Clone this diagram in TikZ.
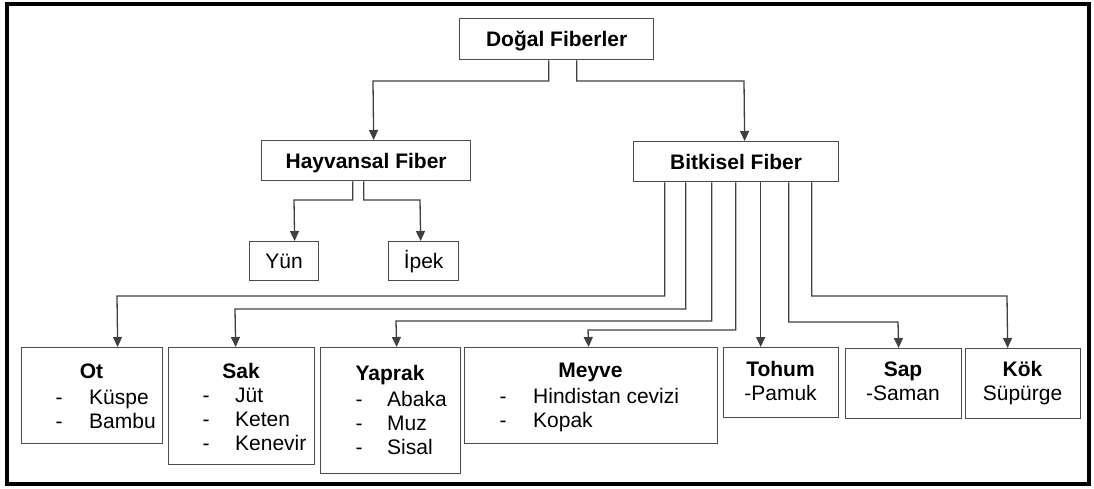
\documentclass[tikz,border=0pt]{standalone}
\usepackage{fontspec}
\setmainfont{Liberation Sans}
\usetikzlibrary{arrows.meta}
\begin{document}
\begin{tikzpicture}[x=1pt,y=-1pt,
  line join=miter,
  frame/.style={draw=black, line width=3.5pt},
  box/.style={draw=black!70, line width=1.3pt, inner sep=0pt, anchor=north west,
    text height=15pt, text depth=0pt, font=\fontsize{21}{24}\selectfont\bfseries},
  leaf/.style={box, font=\fontsize{21}{24}\selectfont},
  conn/.style={draw=black!75, line width=1.3pt, -{Triangle[length=10pt,width=9pt]}},
  ttl/.style={inner sep=0pt, anchor=base, font=\fontsize{21}{24}\selectfont\bfseries},
  txt/.style={inner sep=0pt, anchor=base, font=\fontsize{21}{24}\selectfont},
  itm/.style={inner sep=0pt, anchor=base west, font=\fontsize{21}{24}\selectfont}]
\useasboundingbox (0,0) rectangle (1094,488);
\draw[frame] (7,4) rectangle (1089,484);

% upper levels
\node[box, minimum width=194pt, minimum height=41pt] (dogal) at (459,18) {Doğal Fiberler};
\node[box, minimum width=209pt, minimum height=40pt] (hay) at (261,140) {Hayvansal Fiber};
\node[box, minimum width=205pt, minimum height=40pt] (bit) at (633,141) {Bitkisel Fiber};
\node[leaf, minimum width=69pt, minimum height=39pt] (yun) at (249,241) {Yün};
\node[leaf, minimum width=70pt, minimum height=39pt] (ipek) at (388,241) {İpek};

% plant fibre groups
\node[box, minimum width=141pt, minimum height=96pt] (ot) at (21,347) {};
\node[box, minimum width=146pt, minimum height=117pt] (sak) at (168,347) {};
\node[box, minimum width=140pt, minimum height=126pt] (yap) at (320,347) {};
\node[box, minimum width=253pt, minimum height=96pt] (mey) at (464,347) {};
\node[box, minimum width=115pt, minimum height=70pt] (toh) at (723,347) {};
\node[box, minimum width=116pt, minimum height=70pt] (sap) at (845,348) {};
\node[box, minimum width=115pt, minimum height=70pt] (kok) at (965,348) {};

% group contents
\node[ttl] (ot-t) at (91.5,378) {Ot};
\node[txt] (ot-d1) at (59,404) {-};
\node[itm] (ot-1) at (89,404) {Küspe};
\node[txt] (ot-d2) at (59,428) {-};
\node[itm] (ot-2) at (89,428) {Bambu};

\node[ttl] (sak-t) at (241,378) {Sak};
\node[txt] (sak-d1) at (206,402) {-};
\node[itm] (sak-1) at (235,402) {Jüt};
\node[txt] (sak-d2) at (206,426) {-};
\node[itm] (sak-2) at (235,426) {Keten};
\node[txt] (sak-d3) at (206,450) {-};
\node[itm] (sak-3) at (235,450) {Kenevir};

\node[ttl] (yap-t) at (390,380) {Yaprak};
\node[txt] (yap-d1) at (359,406) {-};
\node[itm] (yap-1) at (387,406) {Abaka};
\node[txt] (yap-d2) at (359,430) {-};
\node[itm] (yap-2) at (387,430) {Muz};
\node[txt] (yap-d3) at (359,454) {-};
\node[itm] (yap-3) at (387,454) {Sisal};

\node[ttl] (mey-t) at (590.5,377) {Meyve};
\node[txt] (mey-d1) at (503,403) {-};
\node[itm] (mey-1) at (533,403) {Hindistan cevizi};
\node[txt] (mey-d2) at (503,427) {-};
\node[itm] (mey-2) at (533,427) {Kopak};

\node[ttl] (toh-t) at (780.5,376) {Tohum};
\node[txt] (toh-1) at (780.5,400) {-Pamuk};
\node[ttl] (sap-t) at (903,376) {Sap};
\node[txt] (sap-1) at (903,400) {-Saman};
\node[ttl] (kok-t) at (1022.5,376) {Kök};
\node[txt] (kok-1) at (1022.5,400) {Süpürge};

% connectors
\draw[conn] ([xshift=-8pt]dogal.south) |- (373,81) -- ([xshift=7.5pt]hay.north);
\draw[conn] ([xshift=20pt]dogal.south) |- (744,81) -- ([xshift=8.5pt]bit.north);
\draw[conn] ([xshift=-13.5pt]hay.south) |- (294,200) -- ([xshift=10.5pt]yun.north);
\draw[conn] ([xshift=-2.5pt]hay.south) |- (420,200) -- ([xshift=-3pt]ipek.north);

\draw[conn] ([xshift=-71.5pt]bit.south) |- (117,296) -- ([xshift=25.5pt]ot.north);
\draw[conn] ([xshift=-50.5pt]bit.south) |- (235,309) -- ([xshift=-6pt]sak.north);
\draw[conn] ([xshift=-24.5pt]bit.south) |- (396,321) -- ([xshift=6pt]yap.north);
\draw[conn] ([xshift=-0.5pt]bit.south) |- (588,330) -- ([xshift=-2.5pt]mey.north);
\draw[conn] ([xshift=24.5pt]bit.south) -- ([xshift=-20.5pt]toh.north);
\draw[conn] ([xshift=52.5pt]bit.south) |- (898,322) -- ([xshift=-5pt]sap.north);
\draw[conn] ([xshift=75.5pt]bit.south) |- (1007,296) -- ([xshift=-15.5pt]kok.north);
\end{tikzpicture}
\end{document}
